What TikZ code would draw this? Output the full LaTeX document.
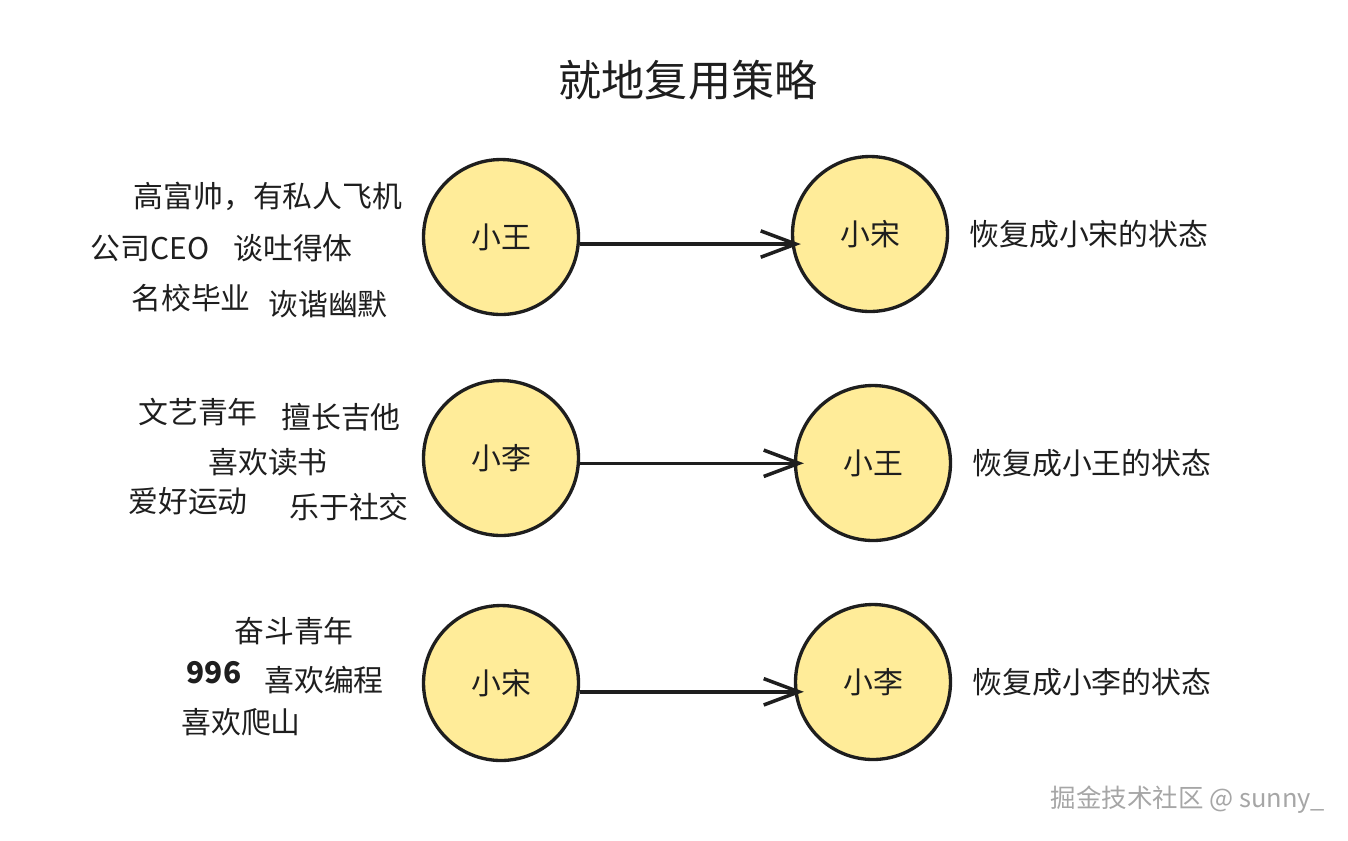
\documentclass[tikz,border=0pt]{standalone}
\usepackage{fontspec}
\newfontfamily\cjk{Noto Sans CJK SC}
\usetikzlibrary{arrows.meta,positioning}
\definecolor{inkblack}{HTML}{1E1E1E}
\definecolor{paleyellow}{HTML}{FFEC99}

\begin{document}
\begin{tikzpicture}[
  x=0.02cm, y=-0.02cm,
  node distance=0.4cm,
  person/.style={draw=inkblack,circle,line width=1.9pt,fill=paleyellow,minimum size=3.1cm,inner sep=0pt,font=\cjk\fontsize{17}{20}\selectfont,text=inkblack},
  trait/.style={font=\cjk\fontsize{17}{20}\selectfont,text=inkblack,inner sep=0pt},
  result/.style={trait,anchor=west},
  restore/.style={draw=inkblack,line width=2pt,-{Straight Barb[length=20pt,width=15pt]},shorten >=-0.2cm}
]
\useasboundingbox (0,0) rectangle (1348,840);
\node[font=\cjk\fontsize{24.5}{28}\selectfont,text=inkblack] (title) at (688,80) {就地复用策略};

% first row
\node[person] (old1) at (501,237) {小王};
\node[person] (new1) at (870,234) {小宋};
\node[result, right=of new1] (res1) {恢复成小宋的状态};
\node[trait] (t11) at (268,196) {高富帅，有私人飞机};
\node[trait] (t12) at (150,248) {公司CEO};
\node[trait] (t13) at (293,248) {谈吐得体};
\node[trait] (t14) at (191,298) {名校毕业};
\node[trait] (t15) at (328,304) {诙谐幽默};

% second row
\node[person] (old2) at (501,458) {小李};
\node[person] (new2) at (873,463) {小王};
\node[result, right=of new2] (res2) {恢复成小王的状态};
\node[trait] (t21) at (198,412) {文艺青年};
\node[trait] (t22) at (341,417) {擅长吉他};
\node[trait] (t23) at (268,462) {喜欢读书};
\node[trait] (t24) at (188,501) {爱好运动};
\node[trait] (t25) at (349,507) {乐于社交};

% third row
\node[person] (old3) at (501,683) {小宋};
\node[person] (new3) at (873,682) {小李};
\node[result, right=of new3] (res3) {恢复成小李的状态};
\node[trait] (t31) at (294,631) {奋斗青年};
\node[trait,font=\cjk\bfseries\fontsize{17}{20}\selectfont] (t32) at (214,673) {996};
\node[trait] (t33) at (324,680) {喜欢编程};
\node[trait] (t34) at (241,722) {喜欢爬山};

\draw[restore] ([yshift=-4]old1.east) -- ([yshift=-4]old1.east -| new1.west);
\draw[restore] ([yshift=-3]old2.east) -- ([yshift=-3]old2.east -| new2.west);
\draw[restore] ([yshift=-5]old3.east) -- ([yshift=-5]old3.east -| new3.west);

\node[font=\cjk\fontsize{14.5}{17}\selectfont,text=black!35] (mark) at (1188,800) {掘金技术社区 @ sunny\_};
\end{tikzpicture}
\end{document}
